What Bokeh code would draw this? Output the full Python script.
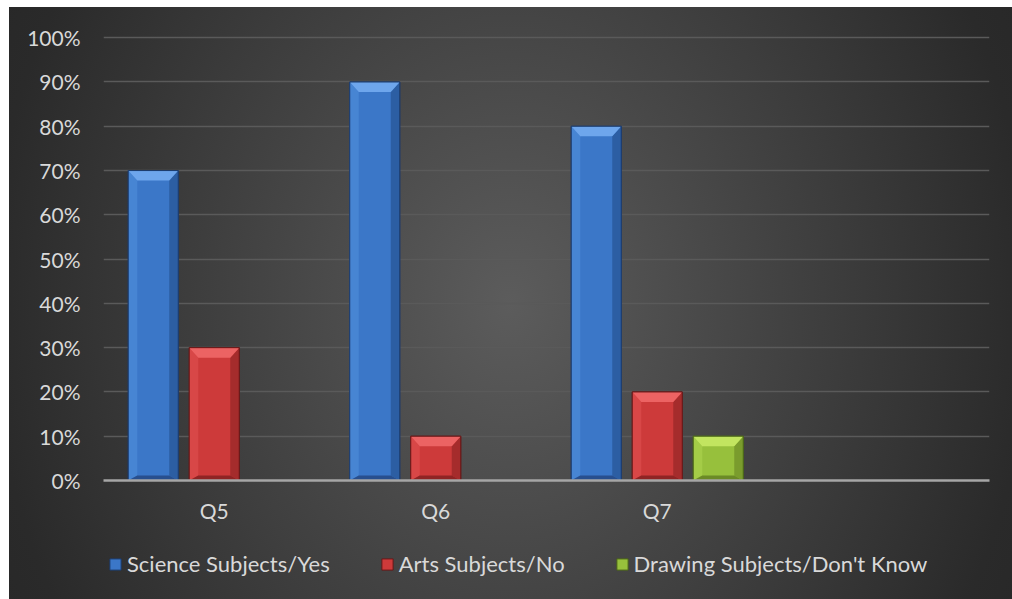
from bokeh.plotting import figure
from bokeh.layouts import column
from bokeh.models import Range1d, FixedTicker, PrintfTickFormatter, Legend, LegendItem
from bokeh.embed import file_html
from bokeh.resources import INLINE

# ---- data ----
categories = ["Q5", "Q6", "Q7"]
science = [70, 90, 80]
arts = [30, 10, 20]
drawing = [0, 0, 10]
series_names = ["Science Subjects/Yes", "Arts Subjects/No", "Drawing Subjects/Don't Know"]
y_ticks = list(range(0, 101, 10))

# ---- layout ----
W = 1003
H_MAIN, H_LEG = 523, 69
ML, MR, MT, MB = 94, 23, 28, 50
FW = W - ML - MR
FH = H_MAIN - MT - MB
Y_TOP = 100.5
n_slots = 4
px_x = FW / n_slots          # px per category unit
px_y = FH / Y_TOP            # px per percent
bar_w = 50 / px_x
gap = 11 / px_x

FONT = "Lato"
TXT = "#d9d9d9"

palettes = [
    dict(main="#3b77c8", top="#6ea6ec", left="#4785d3", right="#2c5ea3", bottom="#284f8e", edge="#1c3b6b"),
    dict(main="#cd3a3a", top="#ec6363", left="#d84747", right="#a52c2c", bottom="#8f2424", edge="#661818"),
    dict(main="#97c03c", top="#c2e560", left="#a4cc47", right="#7a9c2d", bottom="#6b8a26", edge="#4a6418"),
]

p = figure(width=W, height=H_MAIN, x_range=Range1d(0.5, 0.5 + n_slots), y_range=Range1d(0, Y_TOP),
           output_backend="svg", toolbar_location=None,
           min_border_left=ML, min_border_right=MR, min_border_top=MT, min_border_bottom=MB)
p.border_fill_color = None
p.background_fill_color = None
p.outline_line_color = None

# axes
p.xaxis.ticker = FixedTicker(ticks=[i + 1 for i in range(len(categories))])
p.xaxis.major_label_overrides = {i + 1: c for i, c in enumerate(categories)}
p.xaxis.axis_line_color = "#a6a6a6"
p.xaxis.axis_line_width = 2.5
p.xaxis.major_tick_line_color = None
p.xaxis.minor_tick_line_color = None
p.xaxis.major_tick_out = 0
p.xaxis.major_label_standoff = 17
p.yaxis.ticker = FixedTicker(ticks=y_ticks)
p.yaxis.formatter = PrintfTickFormatter(format="%d%%")
p.yaxis.axis_line_color = None
p.yaxis.major_tick_line_color = None
p.yaxis.minor_tick_line_color = None
p.yaxis.major_tick_out = 0
p.yaxis.major_label_standoff = 23
for ax in (p.xaxis, p.yaxis):
    ax.major_label_text_font = FONT
    ax.major_label_text_font_size = "21px"
    ax.major_label_text_color = TXT

p.xgrid.visible = False
p.ygrid.ticker = FixedTicker(ticks=y_ticks)
p.ygrid.grid_line_color = "#5a5a5a"
p.ygrid.grid_line_width = 1.5

# legend strip (separate transparent figure below the chart)
pl = figure(width=W, height=H_LEG, x_range=Range1d(0, 1), y_range=Range1d(0, 1),
            output_backend="svg", toolbar_location=None, x_axis_type=None, y_axis_type=None,
            min_border_left=ML, min_border_right=MR, min_border_top=0, min_border_bottom=0)
pl.border_fill_color = None
pl.background_fill_color = None
pl.outline_line_color = None
pl.xgrid.visible = False
pl.ygrid.visible = False

# bars
bx = 9 / px_x
by_top = 10 / px_y
by_bot = 5 / px_y
items = []
for k, (vals, name) in enumerate(zip([science, arts, drawing], series_names)):
    pal = palettes[k]
    off = (k - 1) * (bar_w + gap)
    xs = [i + 1 + off for i, v in enumerate(vals) if v > 0]
    tops = [v for v in vals if v > 0]
    p.vbar(x=xs, top=tops, bottom=0, width=bar_w, fill_color=pal["main"],
           line_color=pal["edge"], line_width=1)
    # bevel facets
    top_x, top_y, l_x, l_y, r_x, r_y, b_x, b_y = [], [], [], [], [], [], [], []
    for c, t in zip(xs, tops):
        x0, x1 = c - bar_w / 2, c + bar_w / 2
        top_x.append([x0, x1, x1 - bx, x0 + bx]); top_y.append([t, t, t - by_top, t - by_top])
        l_x.append([x0, x0 + bx, x0 + bx, x0]); l_y.append([t, t - by_top, by_bot, 0])
        r_x.append([x1, x1 - bx, x1 - bx, x1]); r_y.append([t, t - by_top, by_bot, 0])
        b_x.append([x0, x1, x1 - bx, x0 + bx]); b_y.append([0, 0, by_bot, by_bot])
    p.patches(l_x, l_y, fill_color=pal["left"], line_color=None)
    p.patches(r_x, r_y, fill_color=pal["right"], line_color=None)
    p.patches(b_x, b_y, fill_color=pal["bottom"], line_color=None)
    p.patches(top_x, top_y, fill_color=pal["top"], line_color=None)
    p.vbar(x=xs, top=tops, bottom=0, width=bar_w, fill_color=None,
           line_color=pal["edge"], line_width=1)
    # legend swatch proxy, kept outside the strip's visible range (only its style is used)
    rl = pl.vbar(x=[-5], top=[-5], bottom=-6, width=0.1, fill_color=pal["main"],
                 line_color=pal["edge"], line_width=1)
    items.append(LegendItem(label=name, renderers=[rl]))

legend = Legend(items=items, orientation="horizontal", location=(5, 22),
                label_text_font=FONT, label_text_font_size="22px", label_text_color=TXT,
                glyph_width=14, glyph_height=14, label_standoff=5, spacing=50,
                margin=0, padding=0, background_fill_alpha=0, border_line_color=None)
pl.add_layout(legend, "center")

layout = column(p, pl, spacing=0)
layout.styles = {"background": "radial-gradient(ellipse 520px 620px at 50% 50%, #5c5c5c 0%, #2a2a2a 100%, #262626 120%)",
                 "margin-left": "9px", "margin-top": "7px"}

open("out.html", "w").write(file_html(layout, INLINE))
